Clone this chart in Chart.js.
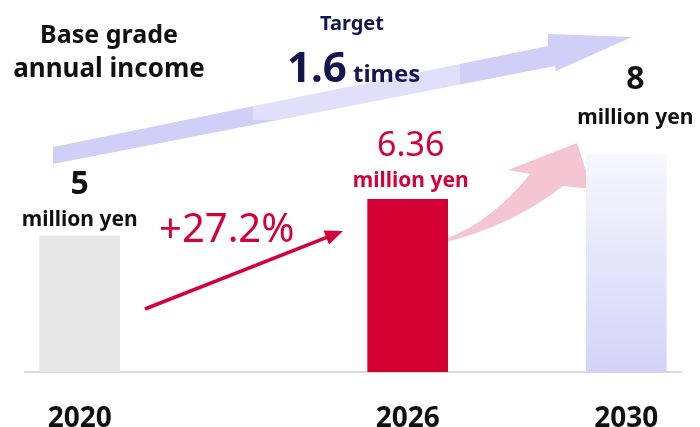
<!DOCTYPE html>
<html>
<head>
<meta charset="utf-8">
<script src="https://cdn.jsdelivr.net/npm/chart.js@4"></script>
<style>
  html, body { margin: 0; padding: 0; background: #fff; }
  #wrap { width: 700px; height: 427px; position: relative; }
</style>
</head>
<body>
<div id="wrap"><canvas id="income-chart"></canvas></div>
<script>
// Base grade annual income (million yen)
const years = [2020, 2026, 2030];
const income = [5, 6.36, 8];
const unitLabel = 'million yen';
const growthLabel = '+27.2%';
const targetRatio = '1.6';

const RED = '#d4003a';
const NAVY = '#16164f';
const INK = '#111111';
const FONT = '"Noto Sans", sans-serif';

function barColor(ctx) {
    const i = ctx.dataIndex;
    if (i === 0) return '#e6e6e6';
    if (i === 1) return '#d50032';
    const { chart } = ctx;
    const area = chart.chartArea;
    if (!area) return '#dcdcf8';
    const y = chart.scales.y;
    const g = chart.ctx.createLinearGradient(0, y.getPixelForValue(income[i]), 0, y.getPixelForValue(0));
    g.addColorStop(0, '#f7f7fe');
    g.addColorStop(1, '#d3d3f7');
    return g;
}

function text(c, str, x, y, font, color, align) {
    c.font = font;
    c.fillStyle = color;
    c.textAlign = align || 'center';
    c.textBaseline = 'alphabetic';
    c.fillText(str, x, y);
}

// arrows and captions drawn around the bars
const decorations = {
    id: 'decorations',
    beforeDatasetsDraw(chart) {
        const c = chart.ctx;
        c.save();
        // long target arrow
        c.fillStyle = '#cfcff7';
        c.beginPath();
        c.moveTo(53, 147);
        c.lineTo(548, 46);
        c.lineTo(548, 34);
        c.lineTo(632, 37);
        c.lineTo(556, 71);
        c.lineTo(555, 66);
        c.lineTo(53, 164);
        c.closePath();
        c.fill();
        // faded box behind the ratio text
        c.fillStyle = 'rgba(255,255,255,0.35)';
        c.fillRect(253, 30, 207, 90);

        // curved arrow out of the 2026 bar
        c.fillStyle = '#f3c6d2';
        c.beginPath();
        c.moveTo(447, 238);
        c.quadraticCurveTo(491, 222, 530, 174);
        c.lineTo(508, 170);
        c.lineTo(577, 143);
        c.lineTo(592, 189);
        c.lineTo(563, 186);
        c.quadraticCurveTo(515, 224, 447, 242);
        c.closePath();
        c.fill();
        c.restore();
    },
    afterDatasetsDraw(chart) {
        const c = chart.ctx;
        const bars = chart.getDatasetMeta(0).data;
        c.save();

        text(c, 'Base grade', 109, 43, 'bold 25px ' + FONT, INK);
        text(c, 'annual income', 109, 77, 'bold 26px ' + FONT, INK);

        text(c, 'Target', 352, 30, 'bold 20px ' + FONT, NAVY);
        text(c, targetRatio, 287, 82, 'bold 42px ' + FONT, NAVY, 'left');
        text(c, 'times', 353, 82, 'bold 24px ' + FONT, NAVY, 'left');

        // value + unit above each bar
        const styles = [
            { dx: 0, up: 42, upUnit: 10, color: INK, font: 'bold 32px ' },
            { dx: 3, up: 43, upUnit: 12, color: RED, font: '34px ' },
            { dx: 9, up: 66, upUnit: 31, color: INK, font: 'bold 32px ' }
        ];
        bars.forEach((bar, i) => {
            const s = styles[i];
            text(c, String(income[i]), bar.x + s.dx, bar.y - s.up, s.font + FONT, s.color);
            text(c, unitLabel, bar.x + s.dx, bar.y - s.upUnit, 'bold 21px ' + FONT, s.color);
        });

        // growth arrow between 2020 and 2026
        const x0 = 145, y0 = 309, x1 = 343, y1 = 231;
        const ang = Math.atan2(y1 - y0, x1 - x0);
        c.strokeStyle = RED;
        c.lineWidth = 3.5;
        c.beginPath();
        c.moveTo(x0, y0);
        c.lineTo(x1 - 12 * Math.cos(ang), y1 - 12 * Math.sin(ang));
        c.stroke();
        c.fillStyle = RED;
        c.beginPath();
        c.moveTo(x1, y1);
        c.lineTo(x1 - 18 * Math.cos(ang) + 7.5 * Math.sin(ang), y1 - 18 * Math.sin(ang) - 7.5 * Math.cos(ang));
        c.lineTo(x1 - 18 * Math.cos(ang) - 7.5 * Math.sin(ang), y1 - 18 * Math.sin(ang) + 7.5 * Math.cos(ang));
        c.closePath();
        c.fill();
        text(c, growthLabel, 159, 242, '40px ' + FONT, RED, 'left');

        c.restore();
    }
};

const ctx = document.getElementById('income-chart').getContext('2d');

const incomeChart = new Chart(ctx, {
    type: 'bar',
    data: {
        datasets: [{
            data: years.map((yr, i) => ({ x: yr, y: income[i] })),
            backgroundColor: barColor,
            barThickness: 80,
            borderWidth: 0
        }]
    },
    options: {
        responsive: true,
        maintainAspectRatio: false,
        animation: false,
        layout: { padding: { left: 25, right: 19, top: 46, bottom: 0 } },
        plugins: {
            legend: { display: false },
            tooltip: { enabled: false }
        },
        scales: {
            x: {
                type: 'linear',
                min: 2019,
                max: 2031,
                offset: false,
                afterBuildTicks: (scale) => {
                    scale.ticks = years.map(v => ({ value: v }));
                },
                afterFit: (scale) => {
                    scale.height = 55;
                },
                grid: { display: false, drawTicks: false, offset: false },
                border: { display: true, color: '#d9d9d9', width: 2 },
                ticks: {
                    padding: 30,
                    color: INK,
                    font: { family: FONT, size: 28, weight: 'bold' },
                    callback: (v) => String(v)
                }
            },
            y: {
                display: false,
                min: 0,
                max: 12
            }
        }
    },
    plugins: [decorations]
});
</script>
</body>
</html>
